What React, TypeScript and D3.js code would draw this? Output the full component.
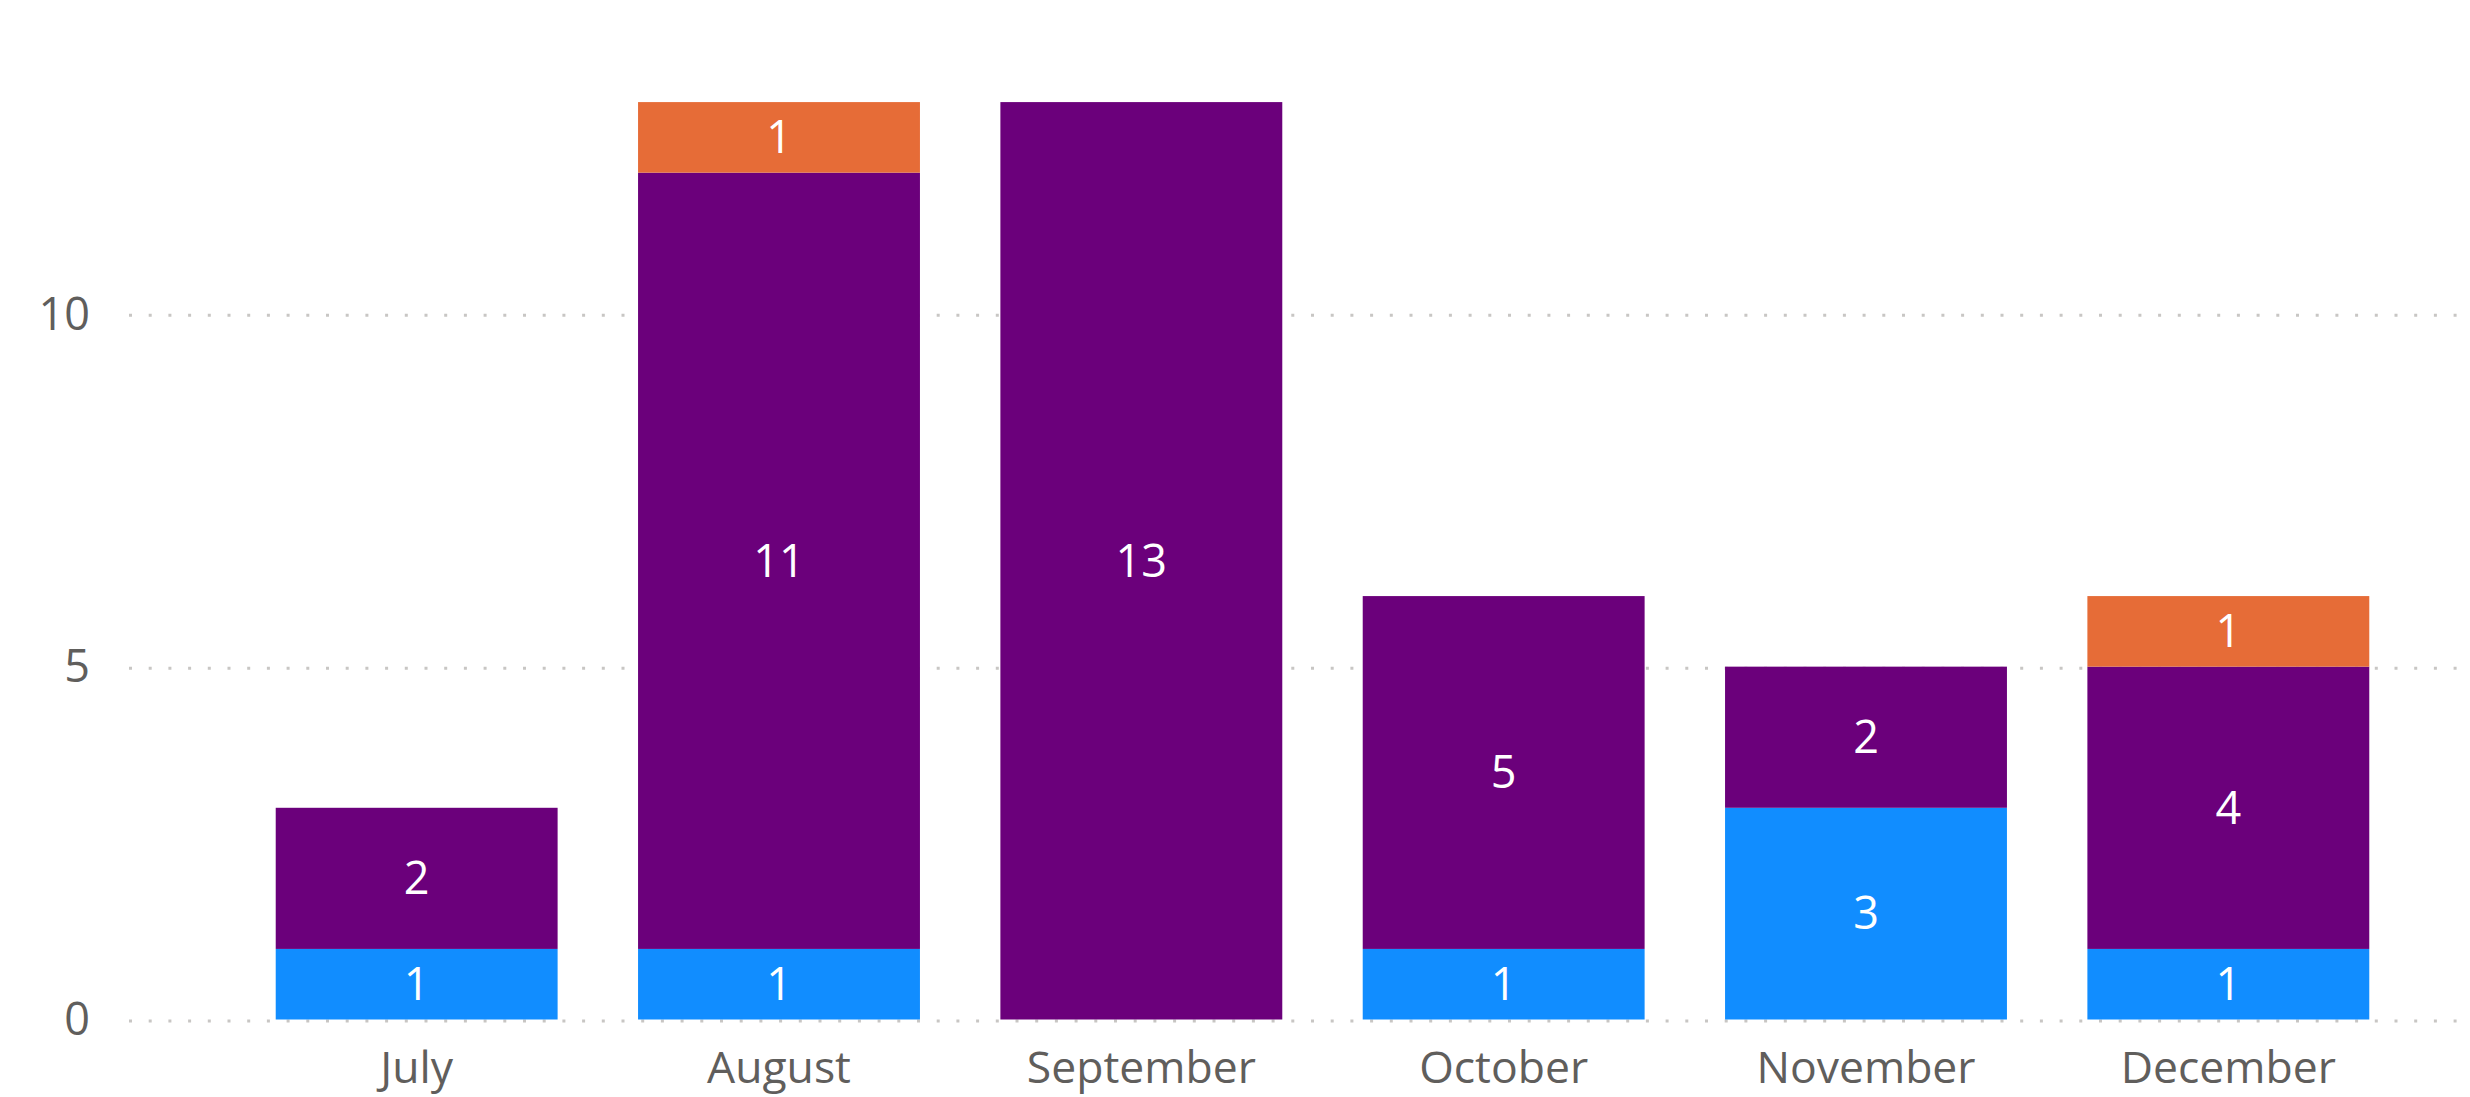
import React from "react";
import * as d3 from "d3";

const months = ["July", "August", "September", "October", "November", "December"];
const blueValues = [1, 1, 0, 1, 3, 1];
const purpleValues = [2, 11, 13, 5, 2, 4];
const orangeValues = [0, 1, 0, 0, 0, 1];
const yTicks = [0, 5, 10];
const seriesKeys = ["blue", "purple", "orange"];
const seriesColors: Record<string, string> = { blue: "#118DFF", purple: "#6B007B", orange: "#E66C37" };

const W = 2470;
const H = 1097;
const FONT = "'Segoe UI', 'Open Sans', sans-serif";

export default function App() {
  const rows = months.map((m, i) => ({ month: m, blue: blueValues[i], purple: purpleValues[i], orange: orangeValues[i] }));
  const stack = d3.stack<any>().keys(seriesKeys)(rows);
  const x = d3.scaleBand<string>().domain(months).range([235.5, 2409.5]).paddingInner(0.222).paddingOuter(0.111);
  const y = d3.scaleLinear().domain([0, 14]).range([1019.5, 1019.5 - 14 * 70.57]);

  return (
    <svg width={W} height={H} style={{ position: "absolute", left: 0, top: 0, background: "#fff" }}>
      {yTicks.map((t) => (
        <g key={t}>
          <line x1={129} x2={W} y1={y(t) + 1.5} y2={y(t) + 1.5} stroke="#C8C6C4" strokeWidth={3} strokeDasharray="3 16.7" />
          <text x={90} y={y(t)} dy="0.35em" textAnchor="end" fontFamily={FONT} fontSize={45} fill="#605E5C">{t}</text>
        </g>
      ))}
      {stack.map((s) => (
        <g key={s.key}>
          {s.map((d, i) => {
            const v = d[1] - d[0];
            if (v <= 0) return null;
            const m = months[i];
            return (
              <g key={m}>
                <rect x={x(m)} width={x.bandwidth()} y={y(d[1])} height={y(d[0]) - y(d[1])} fill={seriesColors[s.key]} />
                <text x={(x(m) as number) + x.bandwidth() / 2} y={(y(d[0]) + y(d[1])) / 2} dy="0.35em" textAnchor="middle" fontFamily={FONT} fontSize={45} fill="#fff">{v}</text>
              </g>
            );
          })}
        </g>
      ))}
      {months.map((m) => (
        <text key={m} x={(x(m) as number) + x.bandwidth() / 2} y={1083} textAnchor="middle" fontFamily={FONT} fontSize={44.5} fill="#605E5C">{m}</text>
      ))}
    </svg>
  );
}
